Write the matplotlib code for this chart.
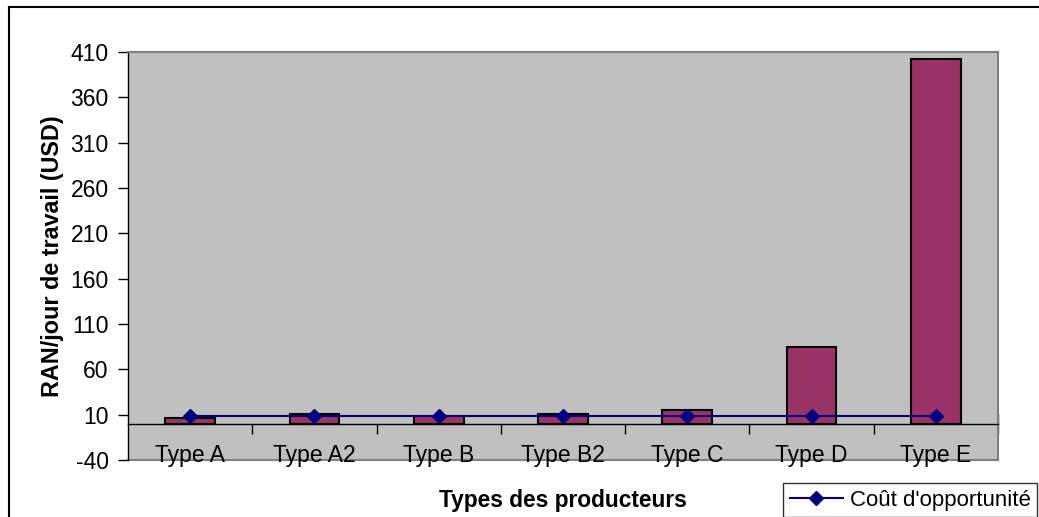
import matplotlib
matplotlib.use("Agg")
import matplotlib.pyplot as plt
from matplotlib.lines import Line2D
from matplotlib.transforms import blended_transform_factory
import numpy as np

categories = ["Type A", "Type A2", "Type B", "Type B2", "Type C", "Type D", "Type E"]
ran_values = [6.5, 11, 9, 11, 15, 85, 402]
opportunity_cost = [9, 9, 9, 9, 9, 9, 9]
yticks = list(range(-40, 411, 50))

plt.rcParams['font.family'] = ['Liberation Sans', 'DejaVu Sans']

W, H = 1039, 517
fig = plt.figure(figsize=(W / 100, H / 100), dpi=100)
ax = fig.add_axes([128 / W, (H - 460) / H, (998 - 128) / W, (460 - 52) / H])

x = np.arange(len(categories))
ax.set_facecolor("#C0C0C0")
ax.bar(x, ran_values, width=0.4, color="#993366", edgecolor="black", linewidth=1.5, zorder=3)
ax.plot(x, opportunity_cost, color="#000080", linewidth=1.5, marker="D", markersize=7,
        markerfacecolor="#000080", markeredgecolor="#000080", zorder=4, label="Coût d'opportunité")

ax.set_xlim(-0.5, len(categories) - 0.5)
ax.set_ylim(-40, 410)
ax.set_yticks(yticks)
ax.set_yticklabels([str(v) for v in yticks], fontsize=16.5)
ax.tick_params(axis='y', direction='out', length=7, width=1, pad=7, color='black')

# spines
for s in ['top', 'right']:
    ax.spines[s].set_color('#808080')
    ax.spines[s].set_linewidth(1.5)
ax.spines['left'].set_color('black')
ax.spines['left'].set_linewidth(1)
ax.spines['bottom'].set_position(('data', 0))
ax.spines['bottom'].set_color('black')
ax.spines['bottom'].set_linewidth(1)
ax.spines['bottom'].set_zorder(2.5)
# gray frame at bottom of plot area
ax.plot([0, 1], [0, 0], transform=ax.transAxes, color='#808080', linewidth=1.5, clip_on=False, zorder=1)

n = len(categories)
ax.set_xticks(np.arange(n - 1) + 0.5)
ax.set_xticks([n - 0.5], minor=True)
ax.set_xticklabels([])
ax.tick_params(axis='x', which='major', direction='out', length=7, width=1, color='black')
ax.tick_params(axis='x', which='minor', direction='inout', length=14, width=1, color='black')

trans = blended_transform_factory(ax.transData, ax.transAxes)
for i, c in enumerate(categories):
    ax.text(i, 0.012, c, transform=trans, ha='center', va='center', fontsize=16.5, zorder=5)

ax.set_ylabel("RAN/jour de travail (USD)", fontsize=16.8, fontweight='bold')
ax.yaxis.set_label_coords(-0.074, 0.5)

fig.text(563 / W, 1 - 500 / H, "Types des producteurs", fontsize=16.4, fontweight='bold',
         ha='center', va='center')

leg = fig.legend(loc='upper left', bbox_to_anchor=(783 / W, 1 - 483 / H), frameon=True,
                 fancybox=False, edgecolor='black', fontsize=16, borderaxespad=0,
                 handlelength=2.4, handletextpad=0.3, borderpad=0.3)
leg.get_frame().set_linewidth(1)

# outer chart border
fig.add_artist(Line2D([9 / W, 1], [1 - 7 / H, 1 - 7 / H], color='black', linewidth=1.5))
fig.add_artist(Line2D([9 / W, 9 / W], [0, 1 - 7 / H], color='black', linewidth=1.5))

fig.savefig("out.png", dpi=100)
